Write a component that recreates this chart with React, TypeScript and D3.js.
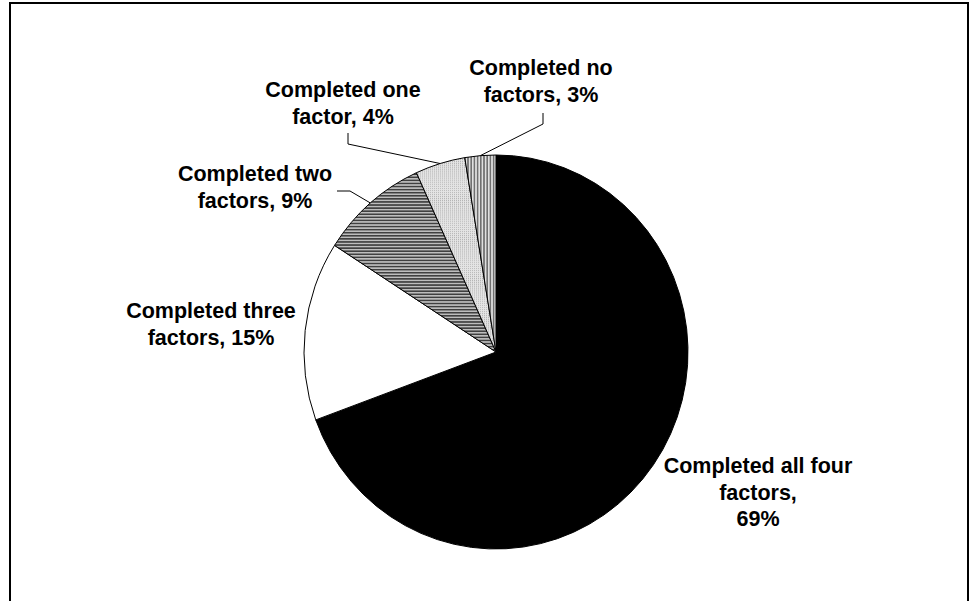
import React from "react";
import * as d3 from "d3";

const categories = [
  "Completed all four factors",
  "Completed three factors",
  "Completed two factors",
  "Completed one factor",
  "Completed no factors",
];
const values = [69.4, 14.7, 9.1, 4.2, 2.6];
const labelLines = [
  ["Completed all four", "factors,", "69%"],
  ["Completed three", "factors, 15%"],
  ["Completed two", "factors, 9%"],
  ["Completed one", "factor, 4%"],
  ["Completed no", "factors, 3%"],
];

const W = 970;
const H = 601;
const CX = 496;
const CY = 352;
const RX = 192;
const RY = 197;

const fills = ["#000000", "#ffffff", "url(#hstripe)", "url(#dots)", "url(#vstripe)"];

const labelPos = [
  { x: 758, y: 473, leader: null as null | [number, number][] },
  { x: 211, y: 318, leader: null },
  { x: 255, y: 181, leader: [[337, 191], [350, 191]] as [number, number][] },
  { x: 343, y: 97, leader: [[348, 133], [348, 144]] as [number, number][] },
  { x: 541, y: 75, leader: [[543, 113], [543, 124]] as [number, number][] },
];

export default function App() {
  const pie = d3.pie<number>().sort(null).value((d) => d)(values);
  const arc = d3.arc<d3.PieArcDatum<number>>().innerRadius(0).outerRadius(RX);
  const sy = RY / RX;

  const edgePoint = (a: d3.PieArcDatum<number>): [number, number] => {
    const m = (a.startAngle + a.endAngle) / 2;
    return [CX + RX * Math.sin(m), CY - RY * Math.cos(m)];
  };

  return (
    <svg
      width={W}
      height={H}
      style={{ position: "absolute", left: 0, top: 0, background: "#fff" }}
      fontFamily="'Liberation Sans', Arial, sans-serif"
    >
      <defs>
        <pattern id="hstripe" patternUnits="userSpaceOnUse" width={4} height={3}>
          <rect width={4} height={3} fill="#bdbdbd" />
          <rect width={4} height={1.5} fill="#404040" />
        </pattern>
        <pattern id="vstripe" patternUnits="userSpaceOnUse" width={3.2} height={4}>
          <rect width={3.2} height={4} fill="#e0e0e0" />
          <rect width={1.6} height={4} fill="#707070" />
        </pattern>
        <pattern id="dots" patternUnits="userSpaceOnUse" width={2} height={2}>
          <rect width={2} height={2} fill="#e4e4e4" />
          <rect width={1} height={1} fill="#b4b4b4" />
        </pattern>
      </defs>
      <rect x={10} y={3} width={958} height={640} fill="none" stroke="#000" strokeWidth={2} />
      <g transform={`translate(${CX},${CY}) scale(1,${sy})`}>
        {pie.map((p, i) => (
          <path
            key={categories[i]}
            d={arc(p) || ""}
            fill={fills[i]}
            stroke="#000"
            strokeWidth={1}
            vectorEffect="non-scaling-stroke"
          />
        ))}
      </g>
      {pie.map((p, i) => {
        const lp = labelPos[i];
        if (!lp.leader) return null;
        const pts = [...lp.leader, edgePoint(p)];
        return (
          <polyline
            key={"l" + i}
            points={pts.map((q) => q.join(",")).join(" ")}
            fill="none"
            stroke="#000"
            strokeWidth={1}
          />
        );
      })}
      {labelLines.map((lines, i) => (
        <text
          key={"t" + i}
          x={labelPos[i].x}
          y={labelPos[i].y}
          textAnchor="middle"
          fontWeight="bold"
          fontSize={21.5}
          fill="#000"
        >
          {lines.map((ln, j) => (
            <tspan key={j} x={labelPos[i].x} dy={j === 0 ? 0 : 26.5}>
              {ln}
            </tspan>
          ))}
        </text>
      ))}
    </svg>
  );
}
